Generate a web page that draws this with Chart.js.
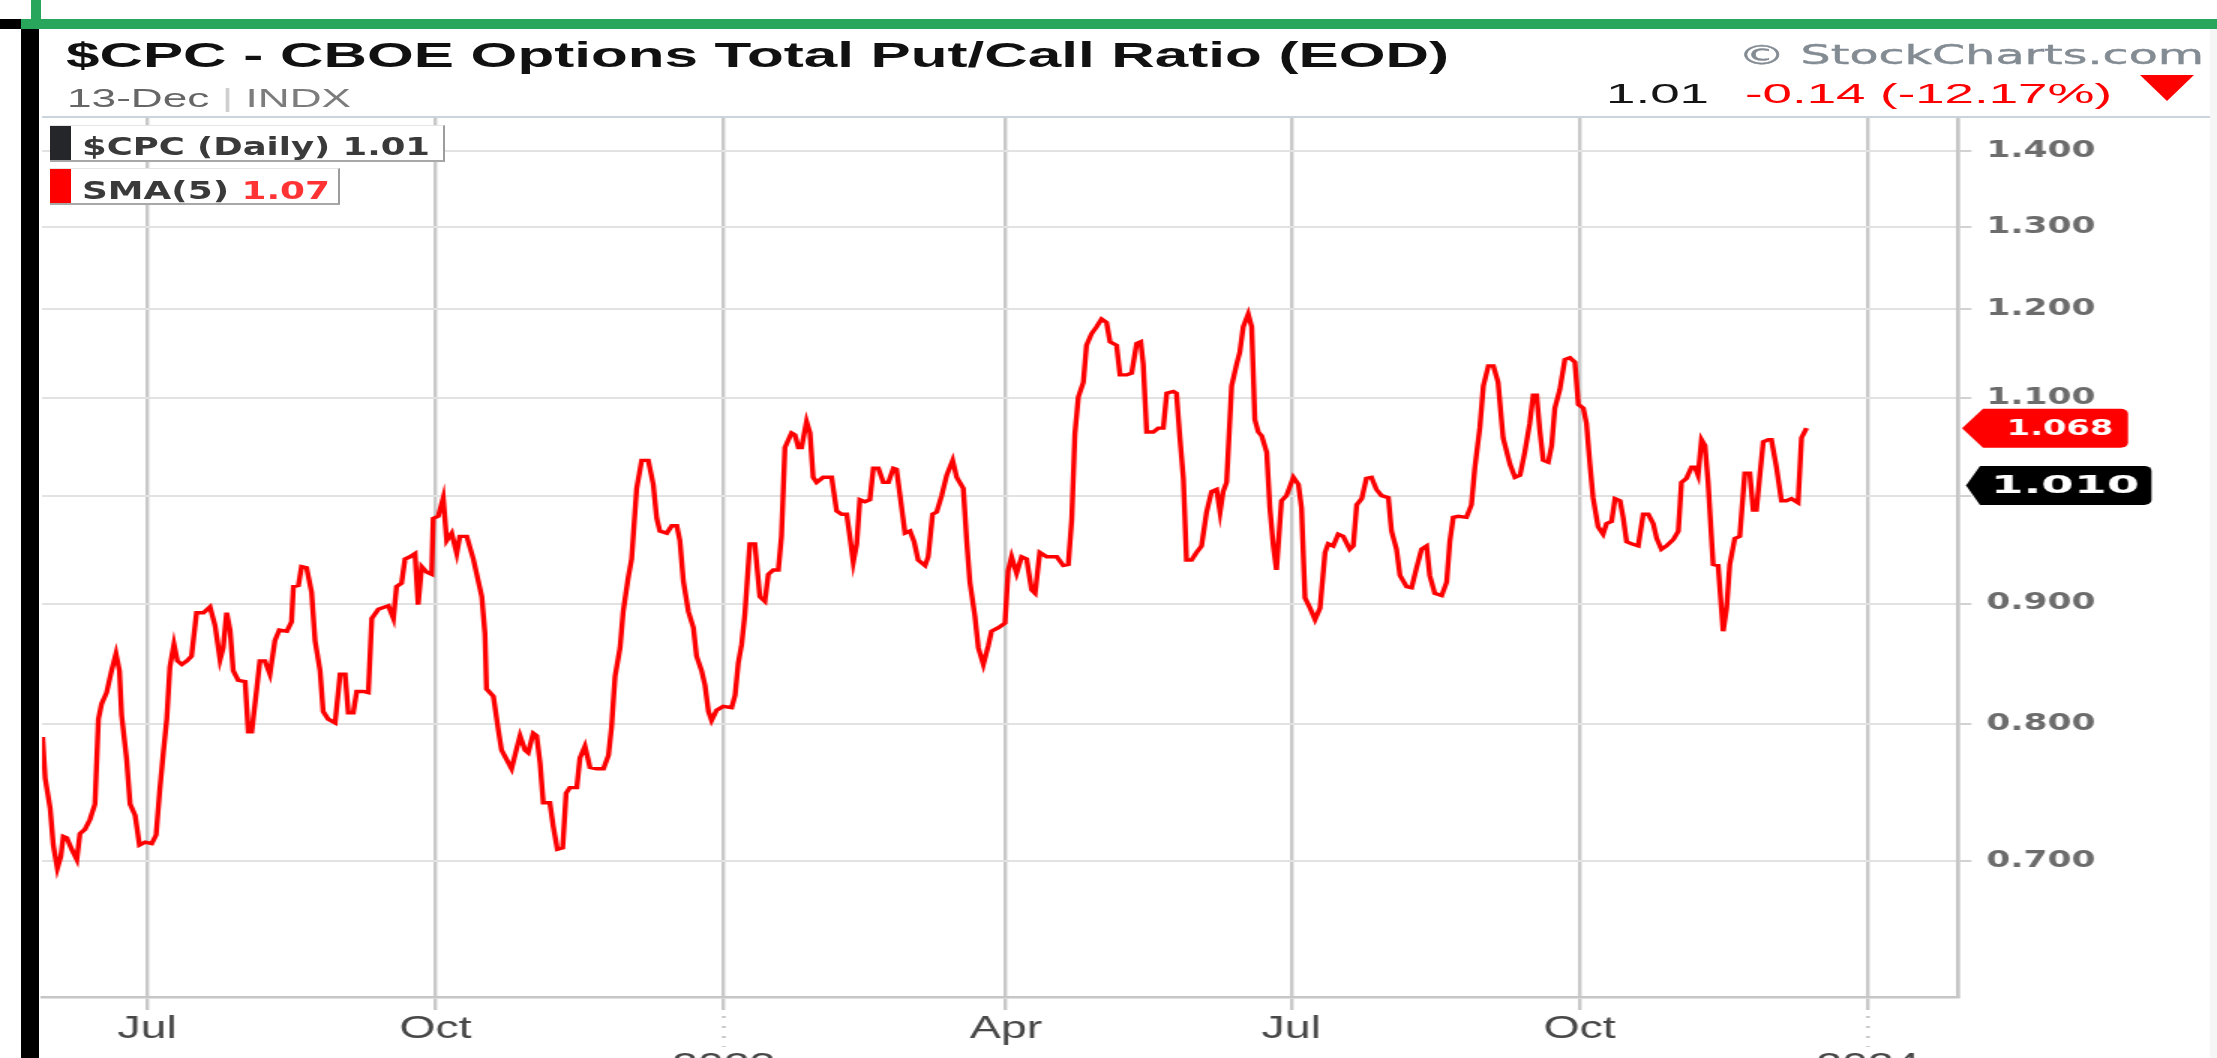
<!DOCTYPE html>
<html>
<head>
<meta charset="utf-8">
<title>$CPC - CBOE Options Total Put/Call Ratio (EOD)</title>
<script src="https://cdn.jsdelivr.net/npm/chart.js@4.4.1/dist/chart.umd.min.js"></script>
<style>
  html, body { margin: 0; padding: 0; background: #fff; }
  body { width: 2217px; height: 1058px; position: relative; overflow: hidden; }
  /* the whole picture is stretched sideways, so the chart is drawn narrow and scaled */
  #stage { position: absolute; left: 0; top: 0; width: 1478px; height: 1058px;
           transform: scaleX(1.5); transform-origin: 0 0; }
  #chart { width: 1478px; height: 1058px; display: block; }
  .t { position: absolute; white-space: nowrap; line-height: 1; transform-origin: 0 0; }
  .box { position: absolute; background: #fff; box-sizing: border-box;
         border-top: 1px solid #e4e4e4; border-right: 2px solid #9c9c9c; border-bottom: 2px solid #a8a8a8; }
  .sw { position: absolute; left: 0; top: 0; bottom: 0; width: 21px; }
  .deco { position: absolute; }
</style>
</head>
<body>
<div id="stage"><canvas id="chart" width="1478" height="1058"></canvas></div>

<!-- frame bits of the page around the chart -->
<div class="deco" style="left:31px;top:0;width:10px;height:19px;background:#27a65c"></div>
<div class="deco" style="left:21px;top:19px;width:2196px;height:10px;background:#27a65c"></div>
<div class="deco" style="left:0;top:19px;width:21px;height:10px;background:#000"></div>
<div class="deco" style="left:21px;top:29px;width:18px;height:1029px;background:#000"></div>
<div class="deco" style="left:2210px;top:29px;width:7px;height:1029px;background:#f6f6f6"></div>

<!-- header -->
<div class="t" data-w="1383" style="left:66px;top:35.4px;font:bold 35px 'Liberation Sans',Arial,sans-serif;color:#111">$CPC - CBOE Options Total Put/Call Ratio (EOD)</div>
<div class="t" data-w="284" style="left:67px;top:83.9px;font:25px 'Liberation Sans',Arial,sans-serif;color:#666"><span>13-Dec</span> <span style="color:#cfcfcf">|</span> <span style="color:#7c7c7c">INDX</span></div>
<div class="t" data-w="466" style="left:1738px;top:39.2px;font:27px 'DejaVu Sans',sans-serif;color:#838b93;-webkit-text-stroke:0.4px #838b93">© StockCharts.com</div>
<div class="t" data-w="103" style="left:1606px;top:78px;font:28px 'Liberation Sans',Arial,sans-serif;color:#151515">1.01</div>
<div class="t" data-w="367" style="left:1745px;top:78px;font:28px 'Liberation Sans',Arial,sans-serif;color:#f00">-0.14 (-12.17%)</div>
<div class="deco" style="left:2140px;top:75px;width:54px;height:26px;background:#f00;clip-path:polygon(0 0,100% 0,50% 100%)"></div>

<!-- legend -->
<div class="box" style="left:50px;top:125px;width:395px;height:37px"><div class="sw" style="background:#24262a"></div></div>
<div class="t" data-w="348" style="left:82px;top:132.7px;font:bold 24px 'DejaVu Sans',sans-serif;color:#3a3a3a">$CPC (Daily) 1.01</div>
<div class="box" style="left:50px;top:168px;width:290px;height:37px"><div class="sw" style="background:#f00"></div></div>
<div class="t" data-w="248" style="left:82px;top:176.7px;font:bold 24px 'DejaVu Sans',sans-serif;color:#3a3a3a">SMA(5) <span style="color:#f33">1.07</span></div>

<script>
// days after 1 Jul 2022 (x) and the SMA(5) of $CPC (y)
const dayOffset = [
  -33.3,-32.5,-30.9,-29.9,-28.6,-27.5,-26.7,-25.6,-24.0,-22.4,-21.4,-19.8,-18.2,-16.6,-15.5,-14.5,-12.9,-11.3,-9.9,-8.8,
  -8.1,-6.5,-5.4,-3.8,-2.4,-0.6,1.5,2.9,4.1,5.2,6.3,7.3,8.6,9.7,11.1,12.7,14.2,15.8,18.0,20.1,
  21.7,23.3,24.3,25.4,26.5,27.5,29.1,31.3,32.3,33.4,35.0,36.0,37.6,39.2,40.8,42.2,44.6,46.1,46.7,48.3,
  49.3,50.9,52.5,53.6,55.2,56.2,57.8,60.0,61.6,63.2,64.2,65.8,66.9,69.0,70.6,71.7,73.8,77.0,78.6,79.6,
  81.2,82.3,83.9,85.5,86.5,87.6,89.2,90.8,91.3,92.9,94.5,95.6,97.2,98.8,99.8,102.0,104.1,
  106.8,107.8,108.3,110.5,112.1,113.1,114.7,116.3,117.9,119.0,120.6,121.6,123.2,124.3,125.4,126.4,128.5,129.6,130.9,132.6,
  133.7,134.9,137.1,138.1,139.7,141.3,143.4,145.6,147.2,148.2,149.3,150.9,151.9,153.5,154.6,156.2,157.8,159.9,161.5,162.6,
  163.6,165.8,167.4,169.0,170.0,171.1,172.7,174.3,175.3,176.9,178.0,179.1,180.1,181.7,183.8,186.5,187.6,188.6,189.7,190.7,
  192.3,193.9,195.5,197.1,198.2,199.8,201.4,202.4,203.5,205.6,206.7,207.8,208.8,210.4,211.5,212.5,213.6,215.7,218.4,220.0,
  221.6,223.2,224.2,225.3,226.4,227.4,229.0,230.6,231.7,233.3,234.9,236.5,238.1,239.1,240.7,241.8,
  243.4,244.7,246.0,248.2,249.2,250.6,251.9,253.5,255.1,257.0,258.3,260.4,261.5,262.5,264.1,265.2,266.8,268.4,269.4,271.6,
  273.7,274.7,275.8,277.4,279.0,280.6,282.2,283.3,284.8,287.0,290.2,292.3,293.9,295.0,296.0,297.1,298.7,299.7,301.3,302.9,
  304.5,306.1,307.2,309.3,310.4,312.5,314.1,315.7,317.0,317.8,318.9,321.0,322.6,324.2,325.3,327.4,328.4,329.5,330.6,331.6,
  333.2,334.8,336.4,338.0,339.6,341.2,342.3,343.3,344.4,346.0,347.6,348.6,349.7,351.3,352.4,353.4,354.5,355.6,357.2,358.2,
  359.3,360.3,361.9,363.5,365.7,367.3,368.3,369.4,371.0,372.6,374.2,375.8,376.8,378.4,380.0,381.6,
  383.7,384.8,385.9,387.5,389.0,390.6,392.2,393.8,396.0,397.0,398.6,399.7,401.8,403.4,405.0,406.6,408.2,409.2,410.8,413.0,
  414.6,415.6,416.7,418.3,420.9,422.5,423.6,425.2,426.3,427.9,429.5,431.0,432.6,434.8,436.4,438.0,439.5,441.1,442.2,443.3,
  444.3,445.4,447.0,448.1,449.1,450.7,452.3,453.9,455.5,456.6,458.2,459.2,460.3,461.3,462.9,464.5,465.6,467.2,468.3,469.9,
  470.9,472.0,473.6,475.7,477.3,478.9,480.5,481.6,483.1,484.7,486.9,488.5,489.5,491.1,492.7,493.8,494.8,495.9,497.0,498.0,
  499.6,501.2,502.8,503.9,504.9,506.5,508.1,509.7,511.3,512.4,513.4,514.5,515.6,517.2,518.2,519.8,521.4,523.0,524.6,526.7,
  527.8,529.4
];
const sma5 = [
  0.790,0.759,0.737,0.711,0.695,0.703,0.717,0.716,0.708,0.701,0.719,0.722,0.729,0.740,0.804,0.816,0.825,0.843,0.857,0.843,
  0.807,0.773,0.740,0.732,0.711,0.713,0.712,0.718,0.751,0.778,0.804,0.846,0.865,0.851,0.848,0.851,0.855,0.892,0.892,0.897,
  0.881,0.852,0.862,0.892,0.877,0.843,0.835,0.834,0.794,0.794,0.828,0.851,0.851,0.840,0.868,0.877,0.876,0.884,0.915,0.916,
  0.933,0.932,0.910,0.868,0.843,0.810,0.804,0.801,0.840,0.840,0.809,0.809,0.826,0.826,0.825,0.887,0.895,0.898,0.887,0.915,
  0.918,0.940,0.942,0.945,0.899,0.933,0.928,0.926,0.978,0.980,0.998,0.957,0.964,0.945,0.961,0.961,0.940,
  0.906,0.874,0.828,0.822,0.795,0.780,0.773,0.766,0.781,0.791,0.780,0.778,0.793,0.791,0.770,0.741,0.741,0.724,0.708,0.709,
  0.748,0.752,0.752,0.774,0.783,0.767,0.766,0.766,0.776,0.798,0.838,0.862,0.893,0.923,0.940,1.007,1.035,1.035,1.011,0.978,
  0.966,0.964,0.971,0.971,0.957,0.920,0.893,0.879,0.855,0.843,0.831,0.810,0.803,0.811,0.814,0.813,0.823,0.849,0.865,0.890,
  0.954,0.954,0.906,0.902,0.926,0.930,0.930,0.961,1.048,1.063,1.061,1.048,1.048,1.075,1.063,1.018,1.013,1.018,1.018,0.985,
  0.982,0.982,0.961,0.937,0.954,0.996,0.994,0.996,1.027,1.027,1.013,1.013,1.027,1.026,0.989,0.964,
  0.966,0.956,0.939,0.934,0.942,0.982,0.984,1.000,1.020,1.035,1.018,1.007,0.956,0.919,0.889,0.862,0.848,0.864,0.876,0.879,
  0.883,0.929,0.942,0.927,0.942,0.940,0.912,0.909,0.946,0.942,0.942,0.934,0.935,0.977,1.062,1.101,1.117,1.158,1.171,1.179,
  1.188,1.184,1.162,1.158,1.125,1.125,1.127,1.160,1.162,1.137,1.064,1.064,1.068,1.068,1.105,1.107,1.105,1.058,1.017,0.939,
  0.939,0.946,0.952,0.984,1.004,1.006,0.984,1.004,1.013,1.113,1.137,1.150,1.179,1.194,1.179,1.077,1.064,1.060,1.043,0.988,
  0.952,0.930,0.995,1.000,1.018,1.011,0.988,0.905,0.896,0.886,0.896,0.946,0.954,0.952,0.963,0.961,
  0.949,0.952,0.991,0.997,1.017,1.018,1.006,1.000,0.998,0.966,0.949,0.925,0.915,0.914,0.932,0.949,0.952,0.925,0.909,0.907,
  0.919,0.956,0.979,0.980,0.979,0.991,1.028,1.069,1.113,1.135,1.135,1.117,1.058,1.031,1.018,1.020,1.043,1.073,1.103,1.103,
  1.066,1.035,1.033,1.050,1.089,1.109,1.142,1.144,1.139,1.093,1.089,1.073,1.031,0.998,0.970,0.963,0.973,0.975,0.997,0.995,
  0.979,0.956,0.954,0.952,0.982,0.982,0.973,0.959,0.949,0.952,0.958,0.966,1.013,1.017,1.028,1.028,1.020,1.056,1.050,1.013,
  0.935,0.934,0.876,0.896,0.935,0.959,0.961,1.022,1.022,0.986,0.986,1.020,1.054,1.056,1.056,1.028,0.995,0.995,0.997,0.993,
  1.058,1.068
];

const lastClose = 1.01;   // $CPC daily, black tag
const lastSma = 1.068;    // SMA(5), red tag

const tickDays = [0, 92, 184, 274, 365, 457, 549];
const tickLabels = ['Jul', 'Oct', '2023', 'Apr', 'Jul', 'Oct', '2024'];
const yTicks = [0.7, 0.8, 0.9, 1.0, 1.1, 1.2, 1.3, 1.4];

const xMin = -33.5, xMax = 577.7;
const yMin = 0.613, yMax = 1.447;

const isYear = s => /^\d{4}$/.test(s);

function drawTag(ctx, yc, tipX, baseX, endX, color, text, size, textW, textCx) {
  const h = 39, r = 5, top = yc - h / 2, bot = yc + h / 2;
  ctx.beginPath();
  ctx.moveTo(tipX, yc);
  ctx.lineTo(baseX, top);
  ctx.lineTo(endX - r, top);
  ctx.arcTo(endX, top, endX, top + r, r);
  ctx.lineTo(endX, bot - r);
  ctx.arcTo(endX, bot, endX - r, bot, r);
  ctx.lineTo(baseX, bot);
  ctx.closePath();
  ctx.fillStyle = color;
  ctx.fill();

  ctx.font = `bold ${size}px "DejaVu Sans", sans-serif`;
  ctx.textAlign = 'center';
  ctx.textBaseline = 'middle';
  const w = ctx.measureText(text).width;
  ctx.save();
  ctx.translate(textCx, yc + 1);
  ctx.scale(textW / w, 1);
  ctx.fillStyle = '#fff';
  ctx.fillText(text, 0, 0);
  ctx.restore();
}

const extras = {
  id: 'extras',
  afterDraw(chart) {
    const { ctx, chartArea: a, scales: { x, y } } = chart;
    ctx.save();
    // rule along the top of the plot
    ctx.strokeStyle = '#cbd4dc';
    ctx.lineWidth = 2;
    ctx.beginPath();
    ctx.moveTo(a.left, a.top);
    ctx.lineTo(chart.width, a.top);
    ctx.stroke();

    // dotted continuation under the year ticks
    ctx.setLineDash([2, 8]);
    ctx.strokeStyle = '#c4c4c4';
    ctx.lineWidth = 2.4;
    tickDays.forEach((d, i) => {
      if (!isYear(tickLabels[i])) return;
      const px = x.getPixelForValue(d);
      ctx.beginPath();
      ctx.moveTo(px, a.bottom + 19);
      ctx.lineTo(px, a.bottom + 50);
      ctx.stroke();
    });
    ctx.setLineDash([]);

    drawTag(ctx, y.getPixelForValue(lastSma), a.right + 2.7, a.right + 16.7, a.right + 113.4,
            '#ff0000', lastSma.toFixed(3), 21, 71, a.right + 68);
    drawTag(ctx, y.getPixelForValue(lastClose), a.right + 5.4, a.right + 14.7, a.right + 129,
            '#000000', lastClose.toFixed(3), 25, 99, a.right + 71.4);
    ctx.restore();
  }
};

const points = dayOffset.map((d, i) => ({ x: d, y: sma5[i] }));

new Chart(document.getElementById('chart'), {
  type: 'line',
  data: {
    datasets: [{
      label: 'SMA(5)',
      data: points,
      borderColor: '#ff0000',
      borderWidth: 3.4,
      pointRadius: 0,
      tension: 0,
      fill: false
    }]
  },
  options: {
    responsive: false,
    animation: false,
    devicePixelRatio: 1,
    layout: { padding: { left: 28, top: 117, right: 0, bottom: 0 } },
    plugins: { legend: { display: false }, tooltip: { enabled: false } },
    scales: {
      x: {
        type: 'linear',
        min: xMin,
        max: xMax,
        afterBuildTicks: s => { s.ticks = tickDays.map(v => ({ value: v })); },
        afterFit: s => { s.height = 61; },
        ticks: {
          autoSkip: false,
          maxRotation: 0,
          padding: 1,
          color: '#474747',
          font: { family: 'Liberation Sans', size: 31 },
          callback: (v, i) => isYear(tickLabels[i]) ? ['', tickLabels[i]] : tickLabels[i]
        },
        grid: { color: '#c8c8c8', lineWidth: 2.4, tickLength: 13 },
        border: { color: '#c6c6c6', width: 2.6 }
      },
      y: {
        type: 'logarithmic',
        position: 'right',
        min: yMin,
        max: yMax,
        afterBuildTicks: s => { s.ticks = yTicks.map(v => ({ value: v })); },
        afterFit: s => { s.width = 172.7; },
        ticks: {
          padding: 10,
          color: '#6c6c6c',
          font: { family: 'DejaVu Sans', size: 23, weight: 'bold' },
          callback: v => v === 1 ? '' : v.toFixed(3)
        },
        grid: { color: '#e2e2e2', lineWidth: 2, tickLength: 9, tickColor: '#d2d2d2' },
        border: { color: '#c6c6c6', width: 2.7 }
      }
    }
  },
  plugins: [extras]
});

// squeeze or widen each header/legend text to the width it has in the picture
function fitText() {
  document.querySelectorAll('[data-w]').forEach(el => {
    el.style.transform = 'none';
    const w = el.getBoundingClientRect().width;
    if (w > 0) el.style.transform = `scaleX(${el.dataset.w / w})`;
  });
}
fitText();
if (document.fonts && document.fonts.ready) document.fonts.ready.then(fitText);
</script>
</body>
</html>
